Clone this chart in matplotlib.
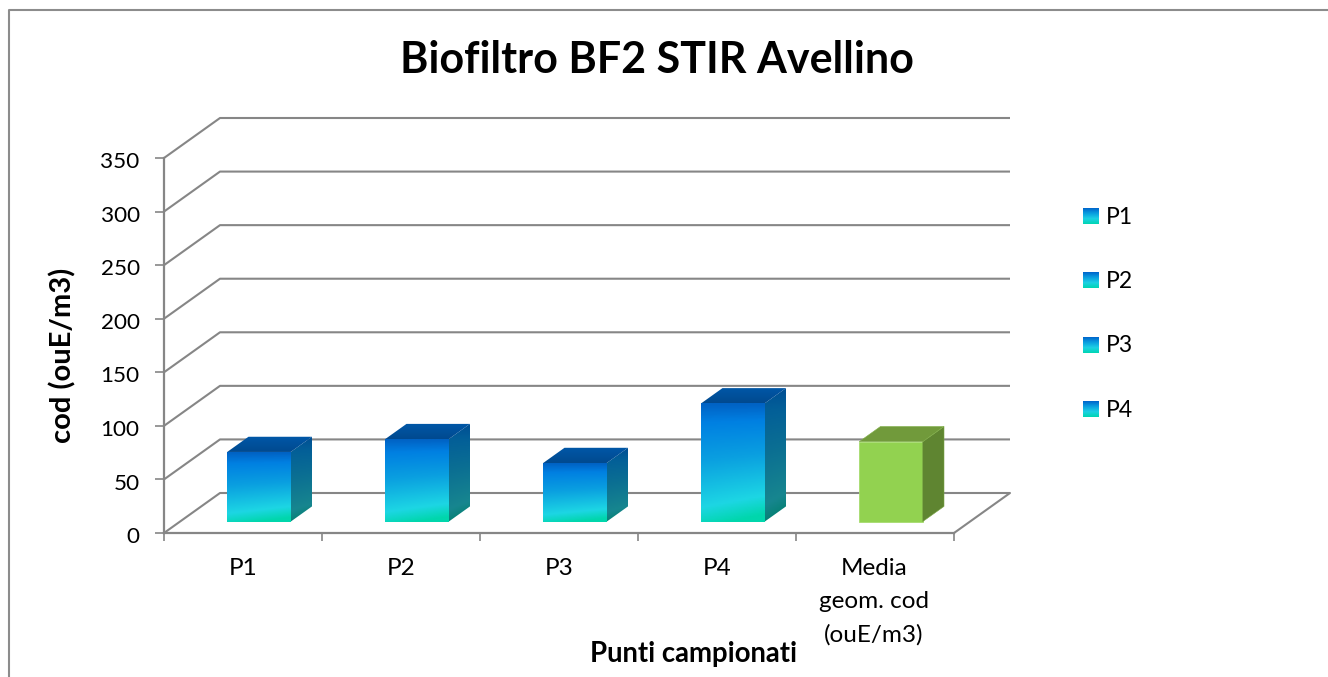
import numpy as np
import matplotlib
matplotlib.use('Agg')
import matplotlib.pyplot as plt
from matplotlib.colors import LinearSegmentedColormap
from matplotlib.patches import Polygon
from matplotlib.transforms import ScaledTranslation

plt.rcParams['font.family'] = ['Lato', 'DejaVu Sans']

# dati
categories = ['P1', 'P2', 'P3', 'P4', 'Media\ngeom. cod\n(ouE/m3)']
values = [65, 77, 54.7, 110.4, 74.6]
y_ticks = [0, 50, 100, 150, 200, 250, 300, 350]
legend_labels = ['P1', 'P2', 'P3', 'P4']

# profondita' della vista 3D, in unita' degli assi
DEPTH_X = 56 / 158
DEPTH_Y = 40 * 350 / 375
BAR_W = 0.402
BAR_D0 = 0.285
BAR_D1 = 0.665
GRID = '#868686'

front_cmap = LinearSegmentedColormap.from_list(
    'front', [(0, '#00d6ac'), (0.17, '#1dd6e4'), (0.55, '#0a9fe0'), (0.85, '#0080e2'), (1, '#0062c4')])
side_cmap = LinearSegmentedColormap.from_list(
    'side', [(0, '#007f6c'), (0.17, '#17868f'), (0.55, '#0b6f93'), (0.85, '#035f98'), (1, '#004f94')])
top_cmap = LinearSegmentedColormap.from_list('top', ['#00498f', '#0058a8'])

fig = plt.figure(figsize=(13.28, 6.77), dpi=100)

# livello in pixel per cornice e testi
bg = fig.add_axes([0, 0, 1, 1])
bg.set_xlim(0, 1328)
bg.set_ylim(677, 0)
bg.axis('off')
bg.plot([9, 9, 1328], [677, 10, 10], color='#8c8c8c', lw=1.5)

ax = fig.add_axes([164 / 1328, 1 - 533 / 677, 790 / 1328, 375 / 677])
ax.set_xlim(0, 5)
ax.set_ylim(0, 350)
ax.patch.set_alpha(0)


def gradient_face(verts, cmap, tilt=0.0):
    # riempie un poligono con un gradiente verticale leggermente inclinato
    xs = [v[0] for v in verts]
    ys = [v[1] for v in verts]
    ramp_y = np.linspace(0, 1, 80)[:, None]
    ramp_x = np.linspace(0, 1, 40)[None, :]
    ramp = np.clip(ramp_y + tilt * (0.5 - ramp_x) * (1 - ramp_y), 0, 1)
    im = ax.imshow(ramp, cmap=cmap, vmin=0, vmax=1, origin='lower', aspect='auto',
                   extent=[min(xs), max(xs), min(ys), max(ys)], zorder=4, clip_on=True)
    poly = Polygon(verts, closed=True, transform=ax.transData, fc='none', ec='none')
    ax.add_patch(poly)
    poly.set_clip_on(False)
    im.set_clip_path(poly)
    return im


def draw_bar(x_center, value, front, side, top, flat):
    d0x, d0y = BAR_D0 * DEPTH_X, BAR_D0 * DEPTH_Y
    d1x, d1y = BAR_D1 * DEPTH_X, BAR_D1 * DEPTH_Y
    left = x_center - BAR_W / 2 + d0x
    right = x_center + BAR_W / 2 + d0x
    base = d0y
    roof = d0y + value
    dx = d1x - d0x
    dy = d1y - d0y
    front_v = [(left, base), (right, base), (right, roof), (left, roof)]
    side_v = [(right, base), (right + dx, base + dy), (right + dx, roof + dy), (right, roof)]
    top_v = [(left, roof), (right, roof), (right + dx, roof + dy), (left + dx, roof + dy)]
    if flat:
        ax.add_patch(Polygon(front_v, fc=front, ec='#a6dc6e', lw=0.6, zorder=4))
        ax.add_patch(Polygon(side_v, fc=side, ec='#7aa545', lw=0.4, zorder=4))
        ax.add_patch(Polygon(top_v, fc=top, ec='#82b04a', lw=0.4, zorder=4))
    else:
        gradient_face(front_v, front, tilt=0.12)
        gradient_face(side_v, side, tilt=0.1)
        gradient_face(top_v, top)


# griglia: pareti e fondo
for v in y_ticks[1:]:
    ax.plot([0, DEPTH_X, 5 + DEPTH_X], [v, v + DEPTH_Y, v + DEPTH_Y],
            color=GRID, lw=1.5, clip_on=False, zorder=1, solid_capstyle='butt')
ax.plot([0, DEPTH_X, 5 + DEPTH_X, 5], [0, DEPTH_Y, DEPTH_Y, 0],
        color=GRID, lw=1.5, clip_on=False, zorder=1)

for i, val in enumerate(values):
    if i < 4:
        draw_bar(i + 0.5, val, front_cmap, side_cmap, top_cmap, False)
    else:
        draw_bar(i + 0.5, val, '#92d250', '#5f8531', '#719a3b', True)
ax.set_xlim(0, 5)
ax.set_ylim(0, 350)
ax.set_aspect('auto')

for name in ['top', 'right']:
    ax.spines[name].set_visible(False)
for name in ['left', 'bottom']:
    ax.spines[name].set_color(GRID)
    ax.spines[name].set_linewidth(1.6)
    ax.spines[name].set_zorder(2)

ax.set_yticks(y_ticks)
ax.set_xticks(range(6))
ax.set_xticklabels([])
ax.tick_params(axis='y', color=GRID, width=1.2, length=6.5, labelsize=16.2, pad=11)
ax.tick_params(axis='x', color=GRID, width=1.2, length=6)
for lbl in ax.get_yticklabels():
    lbl.set_transform(lbl.get_transform() + ScaledTranslation(0, -1.5 / 72, fig.dpi_scale_trans))

for i, name in enumerate(categories):
    bg.text(164 + 158 * (i + 0.5) - (1 if i == 4 else 0), 558, name, ha='center', va='top',
            fontsize=17.5, linespacing=1.7, color='black')

bg.text(657, 60, 'Biofiltro BF2 STIR Avellino', ha='center', va='center',
        fontsize=31, fontweight='bold')
bg.text(693.5, 654, 'Punti campionati', ha='center', va='center', fontsize=19.8, fontweight='bold')
bg.text(63, 355, 'cod (ouE/m3)', ha='center', va='center', rotation=90,
        fontsize=21, fontweight='bold')

# legenda
legend_cmap = LinearSegmentedColormap.from_list(
    'legend', ['#00d6b4', '#1dd0e4', '#0a9fe0', '#0066cc'])
for i, label in enumerate(legend_labels):
    y = 216 + 64.4 * i
    bg.imshow(np.linspace(1, 0, 40)[:, None], cmap=legend_cmap, origin='upper', aspect='auto',
              extent=[1083, 1099, y + 8, y - 8])
    bg.text(1106, y + 1, label, ha='left', va='center', fontsize=16.5)
bg.set_xlim(0, 1328)
bg.set_ylim(677, 0)

fig.savefig('out.png', dpi=100)
